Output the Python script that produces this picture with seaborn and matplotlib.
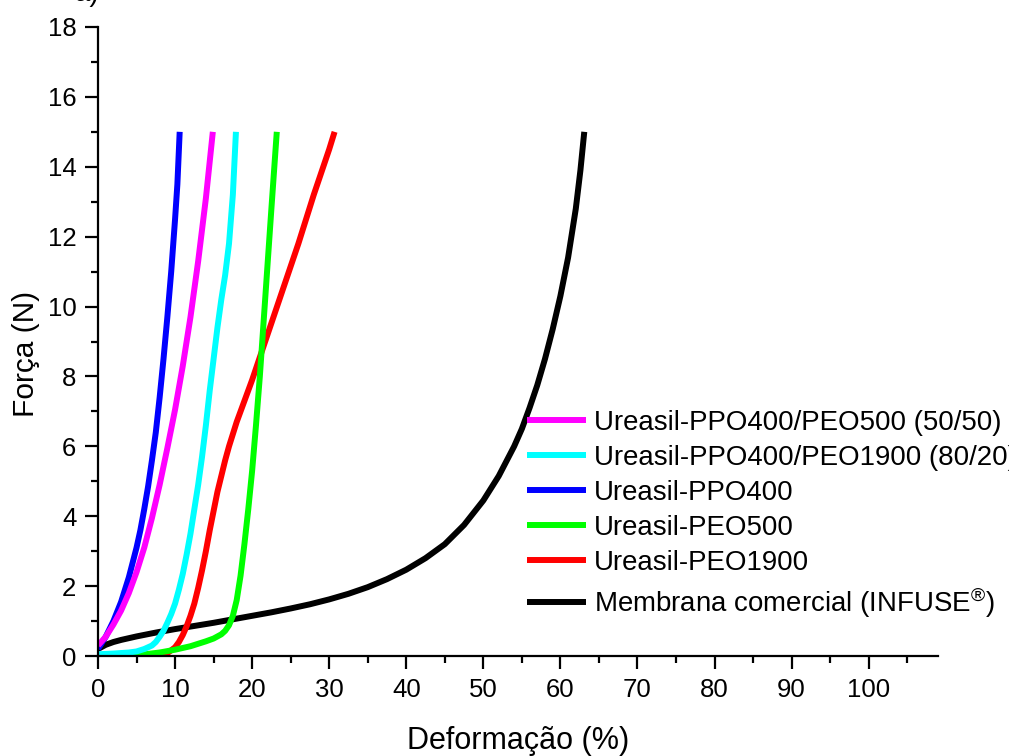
import numpy as np
import pandas as pd
import matplotlib
matplotlib.use("Agg")
import matplotlib.pyplot as plt
import seaborn as sns
from matplotlib.ticker import MultipleLocator

sns.set_style("ticks", {"axes.edgecolor": "black", "text.color": "black",
                        "xtick.color": "black", "ytick.color": "black",
                        "axes.labelcolor": "black"})
plt.rcParams['font.family'] = ['Liberation Sans', 'DejaVu Sans']
plt.rcParams['mathtext.fontset'] = 'custom'
plt.rcParams['mathtext.rm'] = 'Liberation Sans'
plt.rcParams['mathtext.it'] = 'Liberation Sans'

# ---- data ----
black_x = [0, 1, 2, 3, 5, 7.5, 10, 12.5, 15, 17.5, 20, 22.5, 25, 27.5, 30, 32.5, 35, 37.5,
           40, 42.5, 45, 47.5, 50, 52, 54, 55, 56, 57, 58, 59, 60, 61, 62, 62.6, 63.1]
black_y = [0.2, 0.32, 0.4, 0.46, 0.56, 0.67, 0.77, 0.86, 0.95, 1.05, 1.15, 1.25, 1.36, 1.48,
           1.62, 1.78, 1.97, 2.2, 2.47, 2.8, 3.2, 3.75, 4.45, 5.15, 6.0, 6.5, 7.1, 7.75, 8.5,
           9.35, 10.3, 11.4, 12.8, 13.9, 15.0]

red_x = [6, 8, 9, 10, 10.5, 11, 11.5, 12, 12.5, 13, 13.5, 14, 14.5, 15, 15.5, 16, 16.5, 17,
         18, 19, 20, 21, 22, 23, 24, 25, 26, 27, 28, 29, 30, 30.7]
red_y = [0, 0.01, 0.08, 0.25, 0.4, 0.6, 0.85, 1.15, 1.5, 1.95, 2.45, 3.0, 3.6, 4.15, 4.7,
         5.15, 5.6, 6.0, 6.7, 7.3, 7.9, 8.55, 9.2, 9.85, 10.5, 11.15, 11.8, 12.5, 13.2,
         13.85, 14.5, 15.0]

green_x = [0, 5, 8, 10, 12, 14, 15, 16, 16.5, 17, 17.5, 18, 18.5, 19, 19.5, 20, 20.5, 21,
           21.5, 22, 22.5, 23.2]
green_y = [0, 0.02, 0.1, 0.18, 0.28, 0.42, 0.5, 0.62, 0.72, 0.88, 1.15, 1.6, 2.3, 3.2, 4.2,
           5.3, 6.6, 8.0, 9.6, 11.2, 12.8, 15.0]

blue_x = [0, 1, 2, 3, 4, 5, 5.5, 6, 6.5, 7, 7.5, 8, 8.5, 9, 9.5, 10, 10.3, 10.6]
blue_y = [0.2, 0.55, 1.0, 1.55, 2.25, 3.1, 3.6, 4.2, 4.85, 5.6, 6.4, 7.4, 8.5, 9.7, 11.0,
          12.5, 13.5, 15.0]

cyan_x = [0, 2, 4, 5, 6, 7, 7.5, 8, 8.5, 9, 9.5, 10, 10.5, 11, 11.5, 12, 12.5, 13, 13.5,
          14, 14.5, 15, 15.5, 16, 16.5, 17, 17.5, 17.9]
cyan_y = [0.05, 0.07, 0.1, 0.13, 0.2, 0.3, 0.4, 0.55, 0.72, 0.95, 1.2, 1.5, 1.9, 2.35, 2.9,
          3.5, 4.2, 4.9, 5.7, 6.6, 7.6, 8.5, 9.4, 10.2, 10.9, 11.8, 13.2, 15.0]

magenta_x = [0, 1, 2, 3, 4, 5, 6, 7, 8, 9, 10, 11, 12, 13, 14, 14.9]
magenta_y = [0.3, 0.55, 0.9, 1.3, 1.8, 2.4, 3.1, 3.95, 4.9, 5.95, 7.05, 8.3, 9.7, 11.3,
             13.1, 15.0]

labels = ["Membrana comercial (INFUSE$^{®}$)", "Ureasil-PEO1900", "Ureasil-PEO500",
          "Ureasil-PPO400", "Ureasil-PPO400/PEO1900 (80/20)", "Ureasil-PPO400/PEO500 (50/50)"]
colors = ["#000000", "#FF0000", "#00FF00", "#0000FF", "#00FFFF", "#FF00FF"]
series = [(black_x, black_y), (red_x, red_y), (green_x, green_y),
          (blue_x, blue_y), (cyan_x, cyan_y), (magenta_x, magenta_y)]
legend_order = [5, 4, 3, 2, 1, 0]

fig = plt.figure(figsize=(10.09, 7.56), dpi=100)
ax = fig.add_axes([98/1009, 1-656/756, 840/1009, 629/756])

for (xs, ys), lab, col in zip(series, labels, colors):
    df = pd.DataFrame({"x": xs, "y": ys})
    sns.lineplot(data=df, x="x", y="y", ax=ax, color=col, lw=4.3, label=lab, sort=False)
for ln in ax.get_lines():
    ln.set_solid_joinstyle('round')
    ln.set_solid_capstyle('butt')

ax.set_xlim(0, 109)
ax.set_ylim(0, 18)
ax.xaxis.set_minor_locator(MultipleLocator(5))
ax.yaxis.set_major_locator(MultipleLocator(2))
ax.yaxis.set_minor_locator(MultipleLocator(1))
ax.set_xticks(list(range(0, 101, 10)))
ax.set_xticklabels([str(v) for v in range(0, 101, 10)])
for s in ["top", "right"]:
    ax.spines[s].set_visible(False)
for s in ["left", "bottom"]:
    ax.spines[s].set_linewidth(1.6)
ax.tick_params(which='major', direction='out', length=9.5, width=1.6, labelsize=18.5,
               pad=6, colors='black')
ax.tick_params(which='minor', direction='out', length=5, width=1.6, colors='black')
ax.set_xlabel("Deformação (%)", fontsize=22)
ax.set_ylabel("Força (N)", fontsize=21.5)
ax.xaxis.set_label_coords(0.5, -0.112)
ax.yaxis.set_label_coords(-0.069, 0.48)

handles, labs = ax.get_legend_handles_labels()
h = [handles[i] for i in legend_order]
l = [labs[i] for i in legend_order]
ax.legend(h, l, loc='upper left', bbox_to_anchor=(521/1009, 1-404/756),
          bbox_transform=fig.transFigure, frameon=False, fontsize=19.9,
          handlelength=2.15, handletextpad=0.3, labelspacing=0.33, borderaxespad=0,
          borderpad=0.2)

fig.text(75/1009, 1 + 6/756, "a)", fontsize=20, ha='left', va='center')

fig.savefig("out.png", dpi=100)
